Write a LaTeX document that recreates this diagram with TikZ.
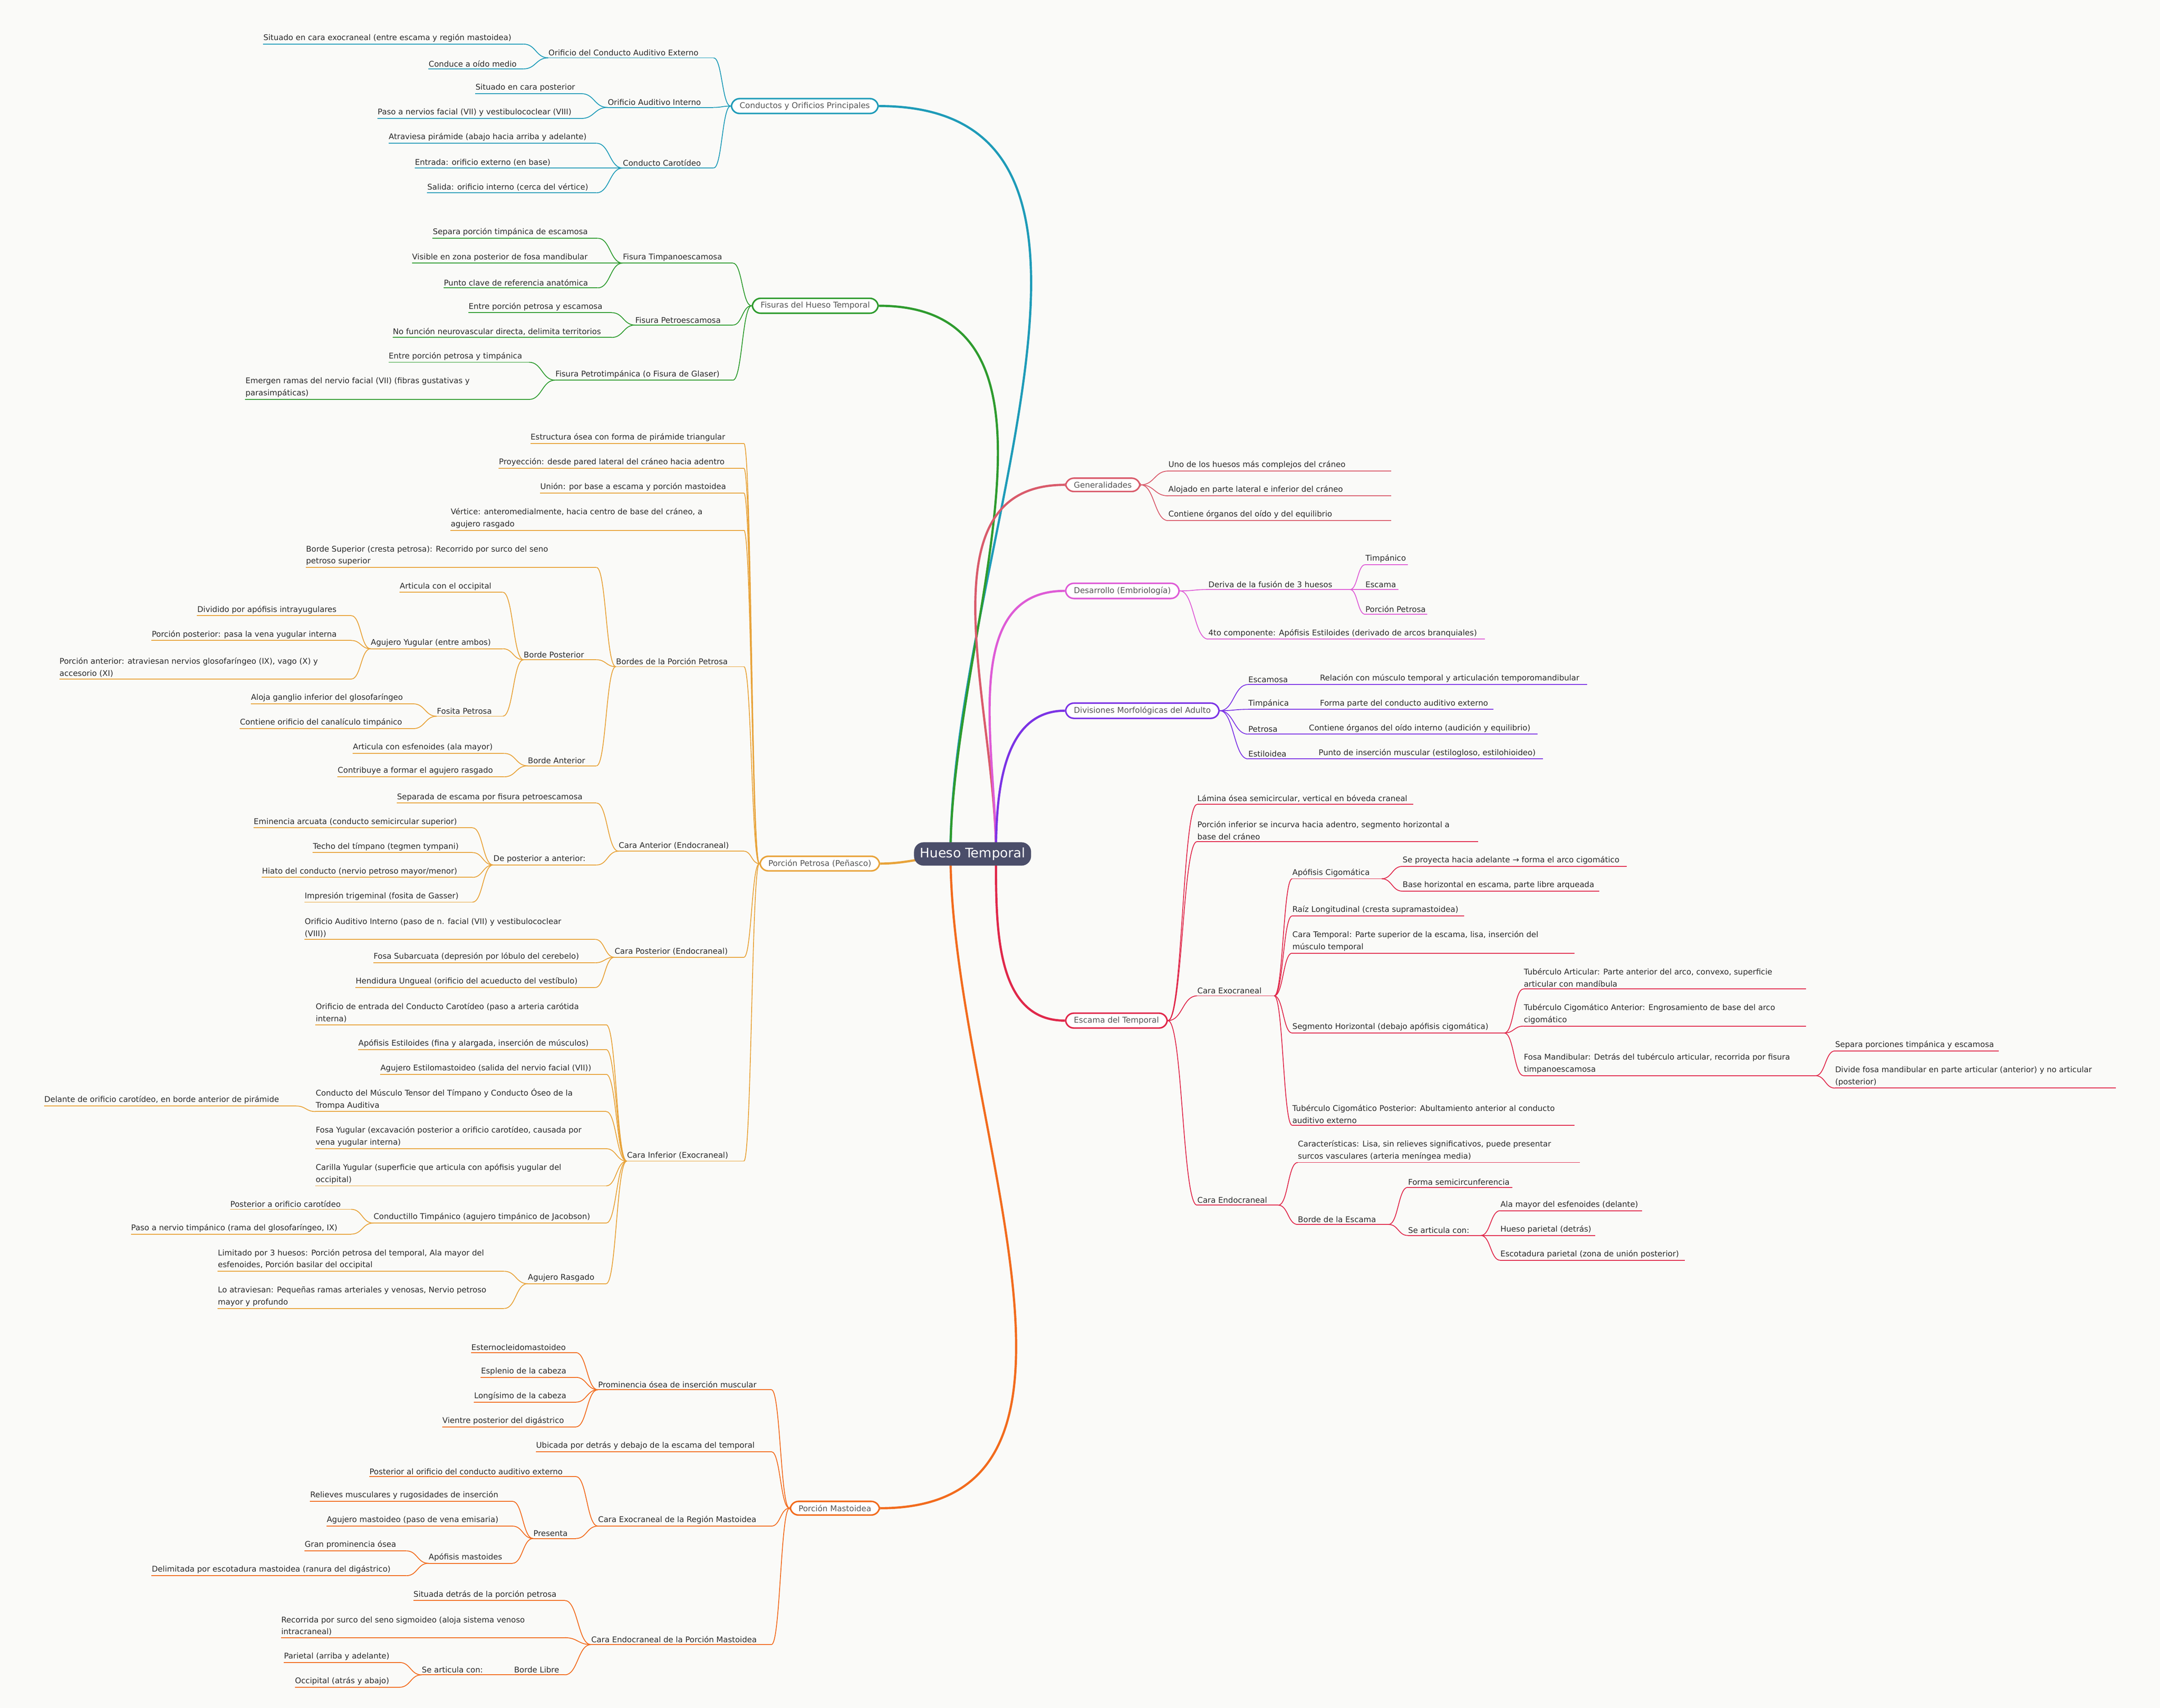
\documentclass[tikz,border=0pt]{standalone}
\usepackage{fontspec}
\usetikzlibrary{calc}
\setmainfont{DejaVu Sans}
\definecolor{tealc}{HTML}{1E9BB8}
\definecolor{greenc}{HTML}{2E9B2E}
\definecolor{oranc}{HTML}{E8A33A}
\definecolor{mastc}{HTML}{F26B1D}
\definecolor{genc}{HTML}{D95B6B}
\definecolor{desc}{HTML}{DE5BD6}
\definecolor{divc}{HTML}{7B33E5}
\definecolor{escc}{HTML}{E0284A}
\definecolor{rootc}{HTML}{4B4E6A}
\definecolor{bgc}{HTML}{FAFAF8}
\definecolor{txtc}{HTML}{2A2A2A}
\tikzset{
 lf/.style={anchor=south west,inner xsep=0pt,inner ysep=1.3pt,text=txtc,align=left,font=\fontsize{5.7}{8.8}\selectfont},
 box/.style={draw=#1,rounded corners=6pt,fill=white,line width=1.1pt,inner xsep=6pt,inner ysep=2.6pt,text=txtc!80,font=\fontsize{5.8}{7}\selectfont},
 main/.style={line width=1.6pt},
 cn/.style={line width=0.6pt},
 hc/.style={to path={let \p1=(\tikztostart),\p2=(\tikztotarget) in .. controls ({(\x1+\x2)/2},\y1) and ({(\x1+\x2)/2},\y2) .. (\tikztotarget)}}
}
\newcommand\lf[5]{\node[lf] (#1) at (#2,#4) {#5};
 \coordinate (#1l) at (#2,#4); \coordinate (#1r) at (#3,#4);
 \draw[cn] (#1l)--(#1r);}
\newcommand\cl[2]{\draw[cn] (#1r) to[hc] (#2l);}
\newcommand\crr[2]{\draw[cn] (#1r) to[hc] (#2l);}
\begin{document}
\begin{tikzpicture}[x=1pt,y=-1pt]
\fill[bgc] (0,0) rectangle (1568,1240);
\useasboundingbox (0,0) rectangle (1568,1240);
\coordinate (RL) at (690,620); \coordinate (RR) at (723,620);
% ===== Conductos
\begin{scope}[tealc]
\node[box=tealc,anchor=east] (B1) at (638,77) {Conductos y Orificios Principales};
\lf{a1}{398}{518}{42}{Orificio del Conducto Auditivo Externo}
\lf{a11}{191}{380}{32}{Situado en cara exocraneal (entre escama y región mastoidea)}
\lf{a12}{311}{380}{50}{Conduce a oído medio}
\lf{a2}{441}{518}{78}{Orificio Auditivo Interno}
\lf{a21}{345}{422}{68}{Situado en cara posterior}
\lf{a22}{274}{422}{86}{Paso a nervios facial (VII) y vestibulococlear (VIII)}
\lf{a3}{452}{518}{122}{Conducto Carotídeo}
\lf{a31}{282}{433}{104}{Atraviesa pirámide (abajo hacia arriba y adelante)}
\lf{a32}{301}{433}{122}{Entrada: orificio externo (en base)}
\lf{a33}{310}{433}{140}{Salida: orificio interno (cerca del vértice)}
\cl{a11}{a1}\cl{a12}{a1}\cl{a21}{a2}\cl{a22}{a2}\cl{a31}{a3}\cl{a32}{a3}\cl{a33}{a3}
\foreach \k in {a1,a2,a3}{\draw[cn] (\k r) to[hc] (B1.west);}
\draw[main] (B1.east) to[out=0,in=90] (RL);
\end{scope}
% ===== Fisuras
\begin{scope}[greenc]
\node[box=greenc,anchor=east] (B2) at (638,222) {Fisuras del Hueso Temporal};
\lf{b1}{452}{532}{191}{Fisura Timpanoescamosa}
\lf{b11}{314}{434}{173}{Separa porción timpánica de escamosa}
\lf{b12}{299}{434}{191}{Visible en zona posterior de fosa mandibular}
\lf{b13}{322}{434}{209}{Punto clave de referencia anatómica}
\lf{b2}{461}{532}{236}{Fisura Petroescamosa}
\lf{b21}{340}{444}{227}{Entre porción petrosa y escamosa}
\lf{b22}{285}{444}{245}{No función neurovascular directa, delimita territorios}
\lf{b3}{403}{532}{276}{Fisura Petrotimpánica (o Fisura de Glaser)}
\lf{b31}{282}{384}{263}{Entre porción petrosa y timpánica}
\lf{b32}{178}{384}{290}{Emergen ramas del nervio facial (VII) (fibras gustativas y\\parasimpáticas)}
\cl{b11}{b1}\cl{b12}{b1}\cl{b13}{b1}\cl{b21}{b2}\cl{b22}{b2}\cl{b31}{b3}\cl{b32}{b3}
\foreach \k in {b1,b2,b3}{\draw[cn] (\k r) to[hc] (B2.west);}
\draw[main] (B2.east) to[out=0,in=90] (RL);
\end{scope}
% ===== Petrosa
\begin{scope}[oranc]
\node[box=oranc,anchor=east] (B3) at (639,627) {Porción Petrosa (Peñasco)};
\lf{c1}{385}{540}{322}{Estructura ósea con forma de pirámide triangular}
\lf{c2}{362}{540}{340}{Proyección: desde pared lateral del cráneo hacia adentro}
\lf{c3}{392}{540}{358}{Unión: por base a escama y porción mastoidea}
\lf{c4}{327}{540}{385}{Vértice: anteromedialmente, hacia centro de base del cráneo, a\\agujero rasgado}
\lf{c5}{447}{540}{484}{Bordes de la Porción Petrosa}
\lf{c51}{222}{433}{412}{Borde Superior (cresta petrosa): Recorrido por surco del seno\\petroso superior}
\lf{c52}{380}{433}{479}{Borde Posterior}
\lf{c521}{290}{365}{430}{Articula con el occipital}
\lf{c522}{269}{365}{471}{Agujero Yugular (entre ambos)}
\lf{c5221}{143}{255}{447}{Dividido por apófisis intrayugulares}
\lf{c5222}{110}{255}{465}{Porción posterior: pasa la vena yugular interna}
\lf{c5223}{43}{255}{493}{Porción anterior: atraviesan nervios glosofaríngeo (IX), vago (X) y\\accesorio (XI)}
\lf{c523}{317}{365}{520}{Fosita Petrosa}
\lf{c5231}{182}{300}{511}{Aloja ganglio inferior del glosofaríngeo}
\lf{c5232}{174}{300}{529}{Contiene orificio del canalículo timpánico}
\lf{c53}{383}{433}{556}{Borde Anterior}
\lf{c531}{256}{366}{547}{Articula con esfenoides (ala mayor)}
\lf{c532}{245}{366}{564}{Contribuye a formar el agujero rasgado}
\lf{c6}{449}{540}{618}{Cara Anterior (Endocraneal)}
\lf{c61}{288}{433}{583}{Separada de escama por fisura petroescamosa}
\lf{c62}{358}{433}{628}{De posterior a anterior:}
\lf{c621}{184}{343}{601}{Eminencia arcuata (conducto semicircular superior)}
\lf{c622}{227}{343}{619}{Techo del tímpano (tegmen tympani)}
\lf{c623}{190}{343}{637}{Hiato del conducto (nervio petroso mayor/menor)}
\lf{c624}{221}{343}{655}{Impresión trigeminal (fosita de Gasser)}
\lf{c7}{446}{540}{695}{Cara Posterior (Endocraneal)}
\lf{c71}{221}{432}{682}{Orificio Auditivo Interno (paso de n. facial (VII) y vestibulococlear\\(VIII))}
\lf{c72}{271}{432}{699}{Fosa Subarcuata (depresión por lóbulo del cerebelo)}
\lf{c73}{258}{432}{717}{Hendidura Ungueal (orificio del acueducto del vestíbulo)}
\lf{c8}{455}{540}{843}{Cara Inferior (Exocraneal)}
\lf{c81}{229}{440}{744}{Orificio de entrada del Conducto Carotídeo (paso a arteria carótida\\interna)}
\lf{c82}{260}{440}{762}{Apófisis Estiloides (fina y alargada, inserción de músculos)}
\lf{c83}{276}{440}{780}{Agujero Estilomastoideo (salida del nervio facial (VII))}
\lf{c84}{229}{440}{807}{Conducto del Músculo Tensor del Tímpano y Conducto Óseo de la\\Trompa Auditiva}
\lf{c841}{32}{215}{803}{Delante de orificio carotídeo, en borde anterior de pirámide}
\lf{c85}{229}{440}{834}{Fosa Yugular (excavación posterior a orificio carotídeo, causada por\\vena yugular interna)}
\lf{c86}{229}{440}{861}{Carilla Yugular (superficie que articula con apófisis yugular del\\occipital)}
\lf{c87}{271}{440}{888}{Conductillo Timpánico (agujero timpánico de Jacobson)}
\lf{c871}{167}{255}{878}{Posterior a orificio carotídeo}
\lf{c872}{95}{255}{896}{Paso a nervio timpánico (rama del glosofaríngeo, IX)}
\lf{c88}{383}{440}{932}{Agujero Rasgado}
\lf{c881}{158}{366}{923}{Limitado por 3 huesos: Porción petrosa del temporal, Ala mayor del\\esfenoides, Porción basilar del occipital}
\lf{c882}{158}{366}{950}{Lo atraviesan: Pequeñas ramas arteriales y venosas, Nervio petroso\\mayor y profundo}
\cl{c5221}{c522}\cl{c5222}{c522}\cl{c5223}{c522}\cl{c5231}{c523}\cl{c5232}{c523}
\cl{c521}{c52}\cl{c522}{c52}\cl{c523}{c52}\cl{c531}{c53}\cl{c532}{c53}
\cl{c51}{c5}\cl{c52}{c5}\cl{c53}{c5}
\cl{c621}{c62}\cl{c622}{c62}\cl{c623}{c62}\cl{c624}{c62}\cl{c61}{c6}\cl{c62}{c6}
\cl{c71}{c7}\cl{c72}{c7}\cl{c73}{c7}
\cl{c841}{c84}\cl{c871}{c87}\cl{c872}{c87}\cl{c881}{c88}\cl{c882}{c88}
\foreach \k in {c81,c82,c83,c84,c85,c86,c87,c88}{\draw[cn] (\k r) to[hc] (c8l);}
\foreach \k in {c1,c2,c3,c4,c5,c6,c7,c8}{\draw[cn] (\k r) to[hc] (B3.west);}
\draw[main] (B3.east) to[out=0,in=180] ([yshift=-2pt]RL);
\end{scope}
% ===== Mastoidea
\begin{scope}[mastc]
\node[box=mastc,anchor=east] (B4) at (639,1095) {Porción Mastoidea};
\lf{d1}{434}{560}{1009}{Prominencia ósea de inserción muscular}
\lf{d11}{342}{418}{982}{Esternocleidomastoideo}
\lf{d12}{349}{418}{1000}{Esplenio de la cabeza}
\lf{d13}{344}{418}{1018}{Longísimo de la cabeza}
\lf{d14}{321}{418}{1036}{Vientre posterior del digástrico}
\lf{d2}{389}{560}{1054}{Ubicada por detrás y debajo de la escama del temporal}
\lf{d3}{434}{560}{1108}{Cara Exocraneal de la Región Mastoidea}
\lf{d31}{268}{418}{1072}{Posterior al orificio del conducto auditivo externo}
\lf{d32}{387}{418}{1117}{Presenta}
\lf{d321}{225}{372}{1090}{Relieves musculares y rugosidades de inserción}
\lf{d322}{237}{372}{1108}{Agujero mastoideo (paso de vena emisaria)}
\lf{d323}{311}{372}{1135}{Apófisis mastoides}
\lf{d3231}{221}{295}{1126}{Gran prominencia ósea}
\lf{d3232}{110}{295}{1144}{Delimitada por escotadura mastoidea (ranura del digástrico)}
\lf{d4}{429}{560}{1194}{Cara Endocraneal de la Porción Mastoidea}
\lf{d41}{300}{410}{1162}{Situada detrás de la porción petrosa}
\lf{d42}{204}{410}{1189}{Recorrida por surco del seno sigmoideo (aloja sistema venoso\\intracraneal)}
\lf{d43}{373}{410}{1216}{Borde Libre}
\lf{d431}{306}{358}{1216}{Se articula con:}
\lf{d4311}{206}{290}{1207}{Parietal (arriba y adelante)}
\lf{d4312}{214}{290}{1225}{Occipital (atrás y abajo)}
\cl{d11}{d1}\cl{d12}{d1}\cl{d13}{d1}\cl{d14}{d1}
\cl{d3231}{d323}\cl{d3232}{d323}\cl{d321}{d32}\cl{d322}{d32}\cl{d323}{d32}\cl{d31}{d3}\cl{d32}{d3}
\cl{d4311}{d431}\cl{d4312}{d431}\cl{d431}{d43}\cl{d41}{d4}\cl{d42}{d4}\cl{d43}{d4}
\foreach \k in {d1,d2,d3,d4}{\draw[cn] (\k r) to[hc] (B4.west);}
\draw[main] (B4.east) to[out=0,in=270] (RL);
\end{scope}
% ===== Generalidades
\begin{scope}[genc]
\node[box=genc,anchor=west] (B5) at (773,352) {Generalidades};
\lf{e1}{848}{1010}{342}{Uno de los huesos más complejos del cráneo}
\lf{e2}{848}{1010}{360}{Alojado en parte lateral e inferior del cráneo}
\lf{e3}{848}{1010}{378}{Contiene órganos del oído y del equilibrio}
\foreach \k in {e1,e2,e3}{\draw[cn] (B5.east) to[hc] (\k l);}
\draw[main] (RR) to[out=90,in=180] (B5.west);
\end{scope}
% ===== Desarrollo
\begin{scope}[desc]
\node[box=desc,anchor=west] (B6) at (773,429) {Desarrollo (Embriología)};
\lf{f1}{877}{980}{428}{Deriva de la fusión de 3 huesos}
\lf{f11}{991}{1022}{410}{Timpánico}
\lf{f12}{991}{1015}{428}{Escama}
\lf{f13}{991}{1036}{446}{Porción Petrosa}
\lf{f2}{877}{1078}{464}{4to componente: Apófisis Estiloides (derivado de arcos branquiales)}
\crr{f1}{f11}\crr{f1}{f12}\crr{f1}{f13}
\foreach \k in {f1,f2}{\draw[cn] (B6.east) to[hc] (\k l);}
\draw[main] (RR) to[out=90,in=180] (B6.west);
\end{scope}
% ===== Divisiones
\begin{scope}[divc]
\node[box=divc,anchor=west] (B7) at (773,516) {Divisiones Morfológicas del Adulto};
\lf{g1}{906}{958}{497}{Escamosa}
\lf{g11}{958}{1152}{497}{Relación con músculo temporal y articulación temporomandibular}
\lf{g2}{906}{958}{515}{Timpánica}
\lf{g21}{958}{1084}{515}{Forma parte del conducto auditivo externo}
\lf{g3}{906}{950}{533}{Petrosa}
\lf{g31}{950}{1116}{533}{Contiene órganos del oído interno (audición y equilibrio)}
\lf{g4}{906}{957}{551}{Estiloidea}
\lf{g41}{957}{1120}{551}{Punto de inserción muscular (estilogloso, estilohioideo)}
\crr{g1}{g11}\crr{g2}{g21}\crr{g3}{g31}\crr{g4}{g41}
\foreach \k in {g1,g2,g3,g4}{\draw[cn] (B7.east) to[hc] (\k l);}
\draw[main] (RR) to[out=90,in=180] (B7.west);
\end{scope}
% ===== Escama
\begin{scope}[escc]
\node[box=escc,anchor=west] (B8) at (773,741) {Escama del Temporal};
\lf{h1}{869}{1026}{584}{Lámina ósea semicircular, vertical en bóveda craneal}
\lf{h2}{869}{1073}{611}{Porción inferior se incurva hacia adentro, segmento horizontal a\\base del cráneo}
\lf{h3}{869}{925}{723}{Cara Exocraneal}
\lf{h31}{938}{1003}{638}{Apófisis Cigomática}
\lf{h311}{1018}{1181}{629}{Se proyecta hacia adelante → forma el arco cigomático}
\lf{h312}{1018}{1161}{647}{Base horizontal en escama, parte libre arqueada}
\lf{h32}{938}{1063}{665}{Raíz Longitudinal (cresta supramastoidea)}
\lf{h33}{938}{1143}{692}{Cara Temporal: Parte superior de la escama, lisa, inserción del\\músculo temporal}
\lf{h34}{938}{1092}{750}{Segmento Horizontal (debajo apófisis cigomática)}
\lf{h341}{1106}{1311}{718}{Tubérculo Articular: Parte anterior del arco, convexo, superficie\\articular con mandíbula}
\lf{h342}{1106}{1311}{745}{Tubérculo Cigomático Anterior: Engrosamiento de base del arco\\cigomático}
\lf{h343}{1106}{1318}{781}{Fosa Mandibular: Detrás del tubérculo articular, recorrida por fisura\\timpanoescamosa}
\lf{h3431}{1332}{1451}{763}{Separa porciones timpánica y escamosa}
\lf{h3432}{1332}{1536}{790}{Divide fosa mandibular en parte articular (anterior) y no articular\\(posterior)}
\lf{h35}{938}{1143}{817}{Tubérculo Cigomático Posterior: Abultamiento anterior al conducto\\auditivo externo}
\lf{h4}{869}{928}{875}{Cara Endocraneal}
\lf{h41}{942}{1147}{844}{Características: Lisa, sin relieves significativos, puede presentar\\surcos vasculares (arteria meníngea media)}
\lf{h42}{942}{1008}{889}{Borde de la Escama}
\lf{h421}{1022}{1098}{862}{Forma semicircunferencia}
\lf{h422}{1022}{1075}{897}{Se articula con:}
\lf{h4221}{1089}{1192}{879}{Ala mayor del esfenoides (delante)}
\lf{h4222}{1089}{1158}{897}{Hueso parietal (detrás)}
\lf{h4223}{1089}{1223}{915}{Escotadura parietal (zona de unión posterior)}
\crr{h31}{h311}\crr{h31}{h312}
\crr{h343}{h3431}\crr{h343}{h3432}
\crr{h34}{h341}\crr{h34}{h342}\crr{h34}{h343}
\foreach \k in {h31,h32,h33,h34,h35}{\draw[cn] (h3r) to[hc] (\k l);}
\crr{h422}{h4221}\crr{h422}{h4222}\crr{h422}{h4223}
\crr{h42}{h421}\crr{h42}{h422}\crr{h4}{h41}\crr{h4}{h42}
\foreach \k in {h1,h2,h3,h4}{\draw[cn] (B8.east) to[hc] (\k l);}
\draw[main] (RR) to[out=270,in=180] (B8.west);
\end{scope}
% ===== Root
\node[fill=rootc,rounded corners=7pt,text=white,minimum width=85pt,minimum height=17pt,font=\fontsize{9.5}{11}\selectfont] (root) at (706,620) {Hueso Temporal};
\end{tikzpicture}
\end{document}
